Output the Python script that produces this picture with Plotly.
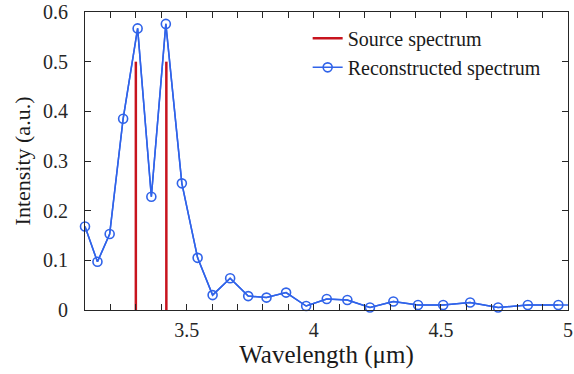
import plotly.graph_objects as go

# Source spectrum (two lines)
source_wl = [3.30, 3.42]
source_int = [0.5, 0.5]

# Reconstructed spectrum
recon_wl = [3.100, 3.149, 3.197, 3.250, 3.307, 3.361, 3.418, 3.481, 3.543, 3.602,
            3.671, 3.742, 3.814, 3.891, 3.970, 4.051, 4.132, 4.221, 4.313, 4.410,
            4.509, 4.615, 4.725, 4.842, 4.962, 5.085]
recon_int = [0.168, 0.097, 0.153, 0.385, 0.567, 0.228, 0.576, 0.255, 0.105, 0.030,
             0.064, 0.028, 0.025, 0.035, 0.008, 0.022, 0.020, 0.005, 0.017, 0.010,
             0.010, 0.015, 0.005, 0.010, 0.010, 0.010]

x_ticks = [3.5, 4, 4.5, 5]
x_ticktext = ["3.5", "4", "4.5", "5"]
y_ticks = [0, 0.1, 0.2, 0.3, 0.4, 0.5, 0.6]
y_ticktext = ["0", "0.1", "0.2", "0.3", "0.4", "0.5", "0.6"]

RED = "#C8141E"
BLUE = "#3063E9"
FONT = "'Liberation Serif', 'DejaVu Serif', serif"
AX = "#262626"
TXT = "#262626"

sx, sy = [], []
for w, v in zip(source_wl, source_int):
    sx += [w, w, None]
    sy += [0, v, None]

x_max = 5.0
vis_x = [w for w in recon_wl if w <= x_max]
vis_y = [v for w, v in zip(recon_wl, recon_int) if w <= x_max]

fig = go.Figure()
fig.add_trace(go.Scatter(x=sx, y=sy, mode="lines", name="Source spectrum",
                         line=dict(color=RED, width=2.5)))
fig.add_trace(go.Scatter(x=recon_wl, y=recon_int, mode="lines", showlegend=False,
                         line=dict(color=BLUE, width=1.5), hoverinfo="skip"))
fig.add_trace(go.Scatter(x=vis_x, y=vis_y, mode="lines+markers", name="Reconstructed spectrum",
                         line=dict(color=BLUE, width=1.5), cliponaxis=False,
                         marker=dict(symbol="circle-open", size=9, color=BLUE,
                                     line=dict(width=1.6, color=BLUE))))

fig.update_layout(
    width=574, height=374,
    margin=dict(l=85, r=1, t=10, b=64),
    paper_bgcolor="white", plot_bgcolor="white",
    font=dict(family=FONT, size=20, color=TXT),
    showlegend=True,
    legend=dict(x=0.461, y=0.977, xanchor="left", yanchor="top",
                bgcolor="rgba(255,255,255,0)", borderwidth=0,
                font=dict(family=FONT, size=20, color="#1a1a1a"),
                tracegroupgap=0, itemwidth=30),
)
fig.update_xaxes(
    range=[3.1, 5.0], tickvals=x_ticks, ticktext=x_ticktext,
    showline=True, linecolor=AX, linewidth=1, mirror="allticks",
    ticks="inside", ticklen=6, tickcolor=AX, showgrid=False, zeroline=False,
    minor=dict(ticks="inside", dtick=0.1, tick0=3.0, ticklen=6, tickcolor=AX, showgrid=False),
    ticklabelstandoff=2, ticklabeloverflow="allow",
    tickfont=dict(family=FONT, size=20, color=TXT),
    title=dict(text="Wavelength (μm)", font=dict(family=FONT, size=25, color="#1a1a1a"), standoff=0),
)
fig.update_yaxes(
    range=[0, 0.6], tickvals=y_ticks, ticktext=y_ticktext,
    showline=True, linecolor=AX, linewidth=1, mirror="allticks",
    ticks="inside", ticklen=6, tickcolor=AX, showgrid=False, zeroline=False,
    ticklabelstandoff=12, ticklabeloverflow="allow",
    tickfont=dict(family=FONT, size=20, color=TXT),
    title=dict(text="Intensity (a.u.)", font=dict(family=FONT, size=22, color="#1a1a1a"), standoff=6),
)

fig.write_html("out.html")
